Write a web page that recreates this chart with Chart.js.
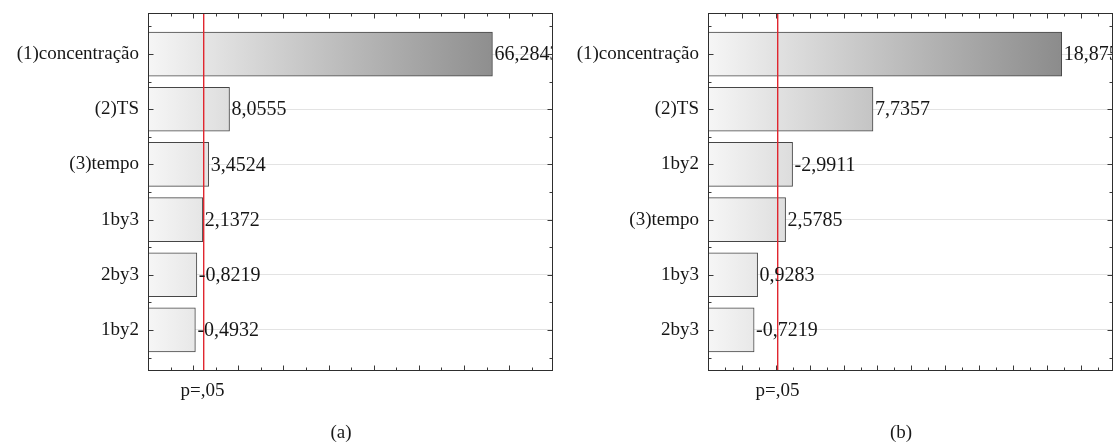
<!DOCTYPE html>
<html>
<head>
<meta charset="utf-8">
<script src="https://cdn.jsdelivr.net/npm/chart.js@4.4.0/dist/chart.umd.min.js"></script>
<style>
  html, body { margin: 0; padding: 0; background: #fff; }
  #wrap { position: relative; width: 1116px; height: 443px; overflow: hidden; }
  .panel { position: absolute; top: 0; width: 558px; height: 443px; }
  .cap { position: absolute; top: 421px; font: 19px "Liberation Serif", serif; color: #1a1a1a; transform: translateX(-50%); line-height: 22px; }
</style>
</head>
<body>
<div id="wrap">
  <div class="panel" style="left:0"><canvas id="ca"></canvas></div>
  <div class="panel" style="left:558px"><canvas id="cb"></canvas></div>
  <div class="cap" style="left:341px">(a)</div>
  <div class="cap" style="left:901px">(b)</div>
</div>
<script>
// Standardized effect estimates (t values), one Pareto chart per response
const factorsA = ['(1)concentração', '(2)TS', '(3)tempo', '1by3', '2by3', '1by2'];
const effectsA = [66.2843, 8.0555, 3.4524, 2.1372, -0.8219, -0.4932];

const factorsB = ['(1)concentração', '(2)TS', '1by2', '(3)tempo', '1by3', '2by3'];
const effectsB = [18.8755, 7.7357, -2.9911, 2.5785, 0.9283, -0.7219];

// Significance threshold (critical t at p = 0.05)
const pLabel = 'p=,05';
const critA = 2.08;
const critB = 2.1;

// Axis ranges and tick steps of the effect axis
const rangeA = [-10, 79.7];
const stepA = 10;
const rangeB = [-2, 21.9];
const stepB = 2;

const SERIF = '"Liberation Serif", "Times New Roman", serif';

function fmt(v) {
  return v.toFixed(4).replace('.', ',');
}

// Frame, inward tick marks, significance line and value labels
const paretoDecor = {
  id: 'paretoDecor',
  afterDatasetsDraw(chart, args, opts) {
    const { ctx, chartArea: a, scales: { x } } = chart;
    ctx.save();

    // critical-value line
    const px = Math.round(x.getPixelForValue(opts.crit));
    ctx.fillStyle = '#e0262f';
    ctx.fillRect(px, a.top, 1.4, a.bottom - a.top);

    // value labels at bar ends, clipped to the plot
    ctx.beginPath();
    ctx.rect(a.left, a.top, a.right - a.left, a.bottom - a.top);
    ctx.clip();
    ctx.fillStyle = '#161616';
    ctx.font = '20px ' + SERIF;
    ctx.textBaseline = 'middle';
    ctx.textAlign = 'left';
    const meta = chart.getDatasetMeta(0);
    opts.values.forEach((v, i) => {
      const el = meta.data[i];
      ctx.fillText(fmt(v), el.x + 2, el.y + 1);
    });
    ctx.restore();
  },
  afterDraw(chart, args, opts) {
    const { ctx, chartArea: a, scales: { x, y } } = chart;
    ctx.save();
    ctx.strokeStyle = '#3a3a3a';
    ctx.lineWidth = 1;
    const L = Math.round(a.left) + 0.5, R = Math.round(a.right) - 0.5;
    const T = Math.round(a.top) + 0.5, B = Math.round(a.bottom) - 0.5;

    ctx.beginPath();
    // effect-axis ticks, top and bottom, pointing inward
    const half = opts.step / 2;
    for (let v = x.min; v <= x.max + 1e-9; v += half) {
      const k = (v - x.min) / opts.step;
      const major = Math.abs(k - Math.round(k)) < 1e-6;
      const len = major ? 5 : 3;
      const p = Math.round(x.getPixelForValue(v)) + 0.5;
      if (p <= L + 1 || p >= R - 1) continue;
      ctx.moveTo(p, T); ctx.lineTo(p, T + len);
      ctx.moveTo(p, B); ctx.lineTo(p, B - len);
    }
    // category-axis ticks, left and right, pointing inward
    for (let v = -0.5; v <= opts.count - 0.5 + 1e-9; v += 0.5) {
      const major = Number.isInteger(v);
      const len = major ? 5 : 3;
      const p = Math.round(y.getPixelForValue(v)) + 0.5;
      ctx.moveTo(L, p); ctx.lineTo(L + len, p);
      ctx.moveTo(R, p); ctx.lineTo(R - len, p);
    }
    ctx.stroke();

    // plot frame
    ctx.strokeStyle = '#2e2e2e';
    ctx.strokeRect(L, T, R - L, B - T);
    ctx.restore();
  }
};

function makePareto(canvasId, factors, effects, crit, range, step, leftWidth, rightPad) {
  const points = effects.map((v, i) => ({ x: Math.abs(v), y: i }));
  return new Chart(document.getElementById(canvasId), {
    type: 'bar',
    data: {
      datasets: [{
        data: points,
        base: range[0],
        barThickness: 44,
        borderColor: '#464646',
        borderWidth: 1,
        borderSkipped: false,
        backgroundColor(c) {
          const area = c.chart.chartArea;
          if (!area) return '#dddddd';
          const g = c.chart.ctx.createLinearGradient(area.left, 0, area.right, 0);
          g.addColorStop(0, '#f6f6f6');
          g.addColorStop(1, '#7c7c7c');
          return g;
        }
      }]
    },
    options: {
      indexAxis: 'y',
      responsive: true,
      maintainAspectRatio: false,
      animation: false,
      layout: { padding: { top: 13, right: rightPad, left: 0, bottom: 0 } },
      plugins: {
        legend: { display: false },
        tooltip: { enabled: false },
        paretoDecor: { values: effects, crit: crit, step: step, count: factors.length }
      },
      scales: {
        y: {
          type: 'linear',
          reverse: true,
          offset: false,
          min: -0.744,
          max: factors.length - 1 + 0.744,
          afterBuildTicks(s) { s.ticks = factors.map((_, i) => ({ value: i })); },
          afterFit(s) { s.width = leftWidth; s.paddingTop = 0; s.paddingBottom = 0; },
          ticks: {
            callback: (v) => factors[v],
            font: { family: SERIF, size: 19 },
            color: '#161616',
            padding: 9
          },
          grid: { color: '#e3e3e3', drawTicks: false, offset: false },
          border: { display: false }
        },
        x: {
          type: 'linear',
          position: 'bottom',
          offset: false,
          min: range[0],
          max: range[1],
          afterBuildTicks(s) { s.ticks = [{ value: crit }]; },
          afterFit(s) { s.height = 72; s.paddingLeft = 0; s.paddingRight = 0; },
          ticks: {
            callback: () => pLabel,
            font: { family: SERIF, size: 19 },
            color: '#161616',
            padding: 1,
            maxRotation: 0,
            autoSkip: false
          },
          grid: { display: false },
          border: { display: false }
        }
      }
    },
    plugins: [paretoDecor]
  });
}

makePareto('ca', factorsA, effectsA, critA, rangeA, stepA, 148, 5);
makePareto('cb', factorsB, effectsB, critB, rangeB, stepB, 150, 3);
</script>
</body>
</html>
